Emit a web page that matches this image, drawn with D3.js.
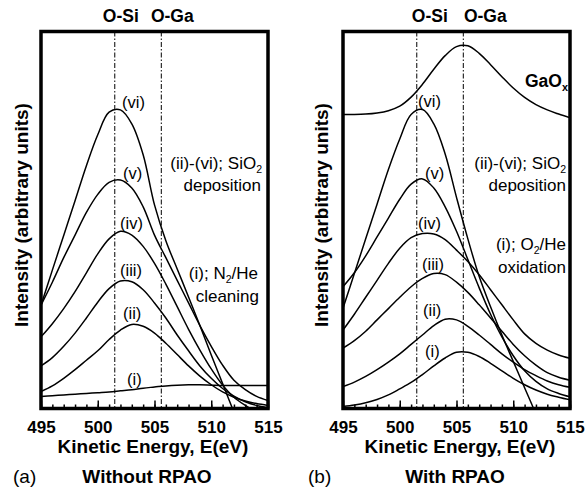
<!DOCTYPE html>
<html><head><meta charset="utf-8">
<script src="https://cdn.jsdelivr.net/npm/d3@7"></script>
<style>body{margin:0;background:#fff} svg{display:block}</style>
</head><body>
<svg id="chart" width="587" height="494"></svg>
<script>
// ---------------- data ----------------
const energies = [495,496,497,498,499,500,501,502,503,504,505,506,507,508,509,510,511,512,513,514,515];
const tickValues = [495,500,505,510,515];
const peakNames = ["O-Si","O-Ga"];
const peakEnergies = [501.5,505.6];

// (a) Without RPAO
const noRpao_i   = [3.2,3.4,3.6,3.8,4.0,4.2,4.4,4.7,5.0,5.4,5.7,6.0,6.2,6.3,6.3,6.2,6.1,6.1,6.1,6.1,6.1];
const noRpao_ii  = [4.5,6.0,8.0,10.3,12.8,15.3,18.3,20.8,22.3,21.8,20.0,17.3,14.3,11.3,8.6,6.3,4.4,3.0,2.0,1.3,0.8];
const noRpao_iii = [11.3,13.5,16.5,20.0,24.0,28.2,31.8,33.8,33.6,31.5,28.0,24.0,19.5,15.3,11.3,8.0,5.3,3.3,1.8,0.8,0.2];
const noRpao_iv  = [19.0,22.5,26.5,31.0,36.0,41.0,45.0,47.0,46.0,43.0,38.5,33.0,27.0,21.0,15.5,10.5,6.2,3.0,0.8,-1.0,-2.5];
const noRpao_v   = [27.4,33.5,40.0,46.0,52.0,56.8,60.0,60.6,58.5,53.5,46.0,40.0,34.0,28.0,22.0,16.5,11.5,7.5,5.0,3.2,2.1];
const noRpao_vi  = [27.4,36.7,45.9,55.1,64.4,72.6,78.6,79.2,75.5,67.3,54.0,44.5,37.0,29.6,22.0,14.2,6.6,-1.0,-9.0,-17.0,-25.0];

// (b) With RPAO
const rpao_i    = [0.5,0.9,1.5,2.4,3.6,5.2,6.9,9.0,11.3,13.4,14.9,14.9,13.8,12.0,10.0,8.0,6.3,4.9,3.8,3.0,2.3];
const rpao_ii   = [5.8,7.0,8.5,10.3,12.3,14.5,17.0,19.5,22.0,23.7,23.5,21.8,19.5,17.0,14.5,12.3,10.3,8.7,7.3,6.3,5.6];
const rpao_iii  = [16.0,18.0,20.5,23.5,26.5,29.5,32.3,34.5,35.8,35.5,33.5,30.8,27.5,24.0,20.5,17.0,14.0,11.5,9.5,8.3,7.5];
const rpao_iv   = [20.8,25.0,29.5,34.0,38.5,42.5,45.3,46.4,46.3,44.8,42.0,39.0,35.5,31.5,27.5,23.5,19.8,17.3,15.5,14.2,13.3];
const rpao_v    = [32.3,36.0,40.5,45.5,50.5,55.5,59.5,60.9,58.5,53.5,47.0,39.5,32.0,25.0,19.0,14.0,10.0,7.2,5.2,4.0,3.1];
const rpao_vi   = [26.6,35.8,45.0,54.2,63.4,71.5,78.0,79.3,75.5,67.5,56.0,45.0,35.0,27.0,19.5,12.5,5.5,-1.5,-9.0,-17.0,-25.0];
const rpao_GaOx = [78.0,78.0,78.1,78.4,79.0,80.2,82.6,86.0,90.0,93.6,96.0,96.2,94.2,91.2,88.0,85.0,82.5,80.6,79.2,78.1,77.1];

const curveNames = ["(i)","(ii)","(iii)","(iv)","(v)","(vi)"];

// ---------------- drawing ----------------
const FONT = "'Liberation Sans', Arial, Helvetica, sans-serif";
const svg = d3.select("#chart");
const defs = svg.append("defs");
const plotTop = 31.5, plotBottom = 408.5;

function addText(g, x, y, parts, opts) {
  const t = g.append("text").attr("x", x).attr("y", y)
    .attr("font-family", FONT).attr("font-size", opts.size)
    .attr("font-weight", opts.weight || "normal")
    .attr("text-anchor", opts.anchor || "start").attr("fill", "#000");
  if (opts.transform) t.attr("transform", opts.transform);
  let shift = 0;
  parts.forEach(p => {
    const sub = typeof p === "object";
    const txt = sub ? p.sub : p;
    const dy = sub ? 3.5 - shift : -shift;
    shift = sub ? 3.5 : 0;
    const ts = t.append("tspan").text(txt);
    if (dy !== 0) ts.attr("dy", dy);
    if (sub) ts.attr("font-size", opts.size * 0.62);
  });
  return t;
}

function drawPanel(cfg) {
  const x = d3.scaleLinear().domain([495, 515]).range([cfg.x0, cfg.x1]);
  const y = d3.scaleLinear().domain([0, 100]).range([plotBottom, plotTop]);
  const g = svg.append("g");
  const clipId = "clip-" + cfg.id;
  defs.append("clipPath").attr("id", clipId).append("rect")
    .attr("x", cfg.x0).attr("y", plotTop)
    .attr("width", cfg.x1 - cfg.x0).attr("height", plotBottom - plotTop);

  // reference lines (dash-dot)
  peakEnergies.forEach((e, i) => {
    g.append("line").attr("x1", x(e)).attr("x2", x(e))
      .attr("y1", plotTop).attr("y2", plotBottom)
      .attr("stroke", "#000").attr("stroke-width", 1)
      .attr("stroke-dasharray", "5,2,1.5,2");
    addText(g, x(e) + cfg.peakLabelDx[i], 22, [peakNames[i]], {size: 17.5, weight: "bold", anchor: "middle"});
  });

  // curves
  const line = d3.line()
    .x((d, i) => x(energies[i]))
    .y(d => y(d))
    .curve(d3.curveCatmullRom.alpha(0.5));
  cfg.series.forEach(s => {
    g.append("path").attr("d", line(s))
      .attr("fill", "none").attr("stroke", "#000").attr("stroke-width", 1.5)
      .attr("stroke-linejoin", "round")
      .attr("clip-path", `url(#${clipId})`);
  });

  // axis ticks (inward)
  const minor = d3.axisBottom(x).tickValues(energies).tickSize(-4).tickFormat("");
  g.append("g").attr("transform", `translate(0,${plotBottom})`).call(minor)
    .call(a => a.select(".domain").remove())
    .call(a => a.selectAll("line").attr("stroke-width", 1.5));
  const major = d3.axisBottom(x).tickValues(tickValues).tickSize(-8).tickPadding(12).tickFormat(d3.format("d"));
  g.append("g").attr("transform", `translate(0,${plotBottom})`).call(major)
    .call(a => a.select(".domain").remove())
    .call(a => a.selectAll("line").attr("stroke-width", 1.5))
    .call(a => a.selectAll("text").attr("font-family", FONT).attr("font-size", 17)
      .attr("font-weight", "bold").attr("fill", "#000"));

  // frame
  g.append("rect").attr("x", cfg.x0).attr("y", plotTop)
    .attr("width", cfg.x1 - cfg.x0).attr("height", plotBottom - plotTop)
    .attr("fill", "none").attr("stroke", "#000").attr("stroke-width", 3.5);

  // curve labels
  cfg.curveLabels.forEach((p, i) => {
    addText(g, p[0], p[1], [curveNames[i]], {size: 16.5});
  });

  // annotations
  cfg.notes.forEach(n => addText(g, n.x, n.y, n.parts, {size: n.size || 17, weight: n.weight, anchor: "end"}));

  // axis titles
  addText(g, cfg.xTitleX, 453, ["Kinetic Energy, E(eV)"], {size: 19, weight: "bold", anchor: "middle"});
  addText(g, 0, 0, ["Intensity (arbitrary units)"],
    {size: 19, weight: "bold", anchor: "middle", transform: `translate(${cfg.yTitleX},215) rotate(-90)`});
  addText(g, cfg.tagX, 483, [cfg.tag], {size: 19});
  addText(g, cfg.captionX, 483, [cfg.caption], {size: 19, weight: "bold", anchor: "middle"});
}

drawPanel({
  id: "a", x0: 41, x1: 268,
  series: [noRpao_i, noRpao_ii, noRpao_iii, noRpao_iv, noRpao_v, noRpao_vi],
  peakLabelDx: [6, 11],
  curveLabels: [[127,385],[123,319],[120,276],[120,229],[123,179],[122,108]],
  notes: [
    {x: 262, y: 169, parts: ["(ii)-(vi); SiO", {sub: "2"}]},
    {x: 261, y: 191, parts: ["deposition"]},
    {x: 258, y: 279, parts: ["(i); N", {sub: "2"}, "/He"]},
    {x: 259, y: 302, parts: ["cleaning"]}
  ],
  xTitleX: 153, yTitleX: 28, tagX: 13, tag: "(a)", captionX: 147, caption: "Without RPAO"
});

drawPanel({
  id: "b", x0: 343, x1: 570,
  series: [rpao_GaOx, rpao_i, rpao_ii, rpao_iii, rpao_iv, rpao_v, rpao_vi],
  peakLabelDx: [13, 22],
  curveLabels: [[425,357],[423,316],[422,270],[418,229],[425,179],[418,107]],
  notes: [
    {x: 566, y: 169, parts: ["(ii)-(vi); SiO", {sub: "2"}]},
    {x: 566, y: 191, parts: ["deposition"]},
    {x: 566, y: 250, parts: ["(i); O", {sub: "2"}, "/He"]},
    {x: 566, y: 273, parts: ["oxidation"]},
    {x: 568, y: 87, parts: ["GaO", {sub: "x"}], weight: "bold", size: 17.5}
  ],
  xTitleX: 460, yTitleX: 328, tagX: 308, tag: "(b)", captionX: 455, caption: "With RPAO"
});
</script>
</body></html>
